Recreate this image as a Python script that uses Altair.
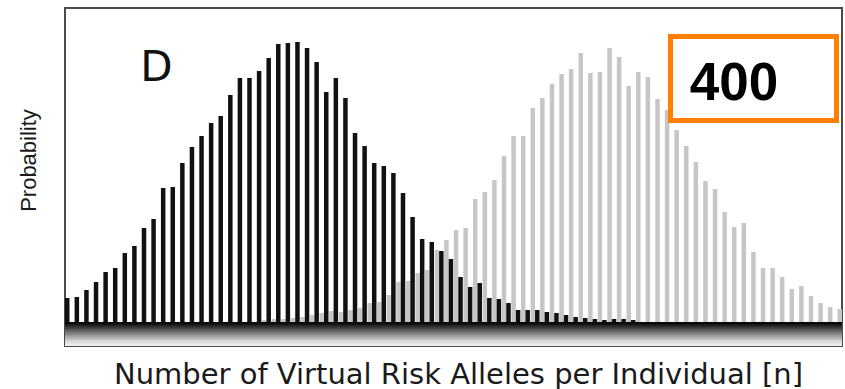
import altair as alt
import pandas as pd

# ---------------- data ----------------
n_values = list(range(0, 81))          # number of virtual risk alleles
N_SIM = 5000                           # simulated individuals per distribution

black_counts = [24, 25, 32, 40, 50, 54, 69, 76, 94, 103,
                134, 135, 159, 175, 186, 199, 206, 227, 244, 244,
                251, 264, 278, 279, 280, 274, 260, 230, 244, 224,
                189, 176, 159, 156, 149, 129, 105, 83, 80, 71,
                63, 45, 35, 39, 24, 23, 19, 12, 12, 12,
                10, 9, 7, 5, 4, 3, 2, 3, 3, 2,
                0, 0, 0, 0, 0, 0, 0, 0, 0, 0,
                0, 0, 0, 0, 0, 0, 0, 0, 0, 0, 0]

gray_counts = [0, 0, 0, 0, 0, 0, 0, 0, 0, 0,
               0, 0, 0, 0, 0, 0, 0, 0, 0, 0,
               2, 3, 3, 4, 5, 7, 9, 11, 10, 12,
               14, 19, 20, 27, 40, 41, 49, 52, 72, 82,
               92, 94, 123, 130, 142, 166, 186, 186, 214, 224,
               238, 248, 253, 269, 249, 250, 274, 265, 236, 250,
               245, 223, 212, 192, 176, 160, 141, 133, 110, 95,
               99, 70, 54, 54, 45, 33, 36, 26, 19, 15, 13]

series_names = ["black", "gray"]
series_colors = ["#111111", "#c6c6c6"]

panel_label = ["D"]
box_label = ["400"]

# ---------------- tables ----------------
rows = []
for i, n in enumerate(n_values):
    rows.append({"n": n, "series": "black", "p": black_counts[i] / N_SIM})
    rows.append({"n": n, "series": "gray", "p": gray_counts[i] / N_SIM})
df = pd.DataFrame(rows)

W, H = 777, 338
y_min = -24 / N_SIM
y_max = 314 / N_SIM
y_scale = alt.Scale(domain=[y_min, y_max], nice=False, zero=False)

y_axis = alt.Axis(title="Probability", titleFont="Liberation Sans",
                  titleFontSize=22, titleFontWeight="normal", titleColor="#1a1a1a",
                  titleX=-30, titleY=152, titleAlign="center",
                  titleBaseline="alphabetic",
                  labels=False, ticks=False, domain=False, grid=False)

x_axis = alt.Axis(title="Number of Virtual Risk Alleles per Individual [n]",
                  titleFont="DejaVu Sans", titleFontSize=29,
                  titleFontWeight="normal", titleColor="#1a1a1a",
                  titleX=393, titleY=37, titleAlign="center",
                  titleBaseline="alphabetic",
                  labels=False, ticks=False, domain=False, grid=False)

# gradient band under the baseline
band_df = pd.DataFrame({"p": [y_min], "p2": [0.0]})
band = alt.Chart(band_df).mark_rect(
    color=alt.Gradient(
        gradient="linear",
        stops=[alt.GradientStop(color="#000000", offset=0),
               alt.GradientStop(color="#1a1a1a", offset=0.12),
               alt.GradientStop(color="#7a7a7a", offset=0.45),
               alt.GradientStop(color="#d8d8d8", offset=0.8),
               alt.GradientStop(color="#f2f2f2", offset=1)],
        x1=0, x2=0, y1=0, y2=1)
).encode(
    x=alt.value(0), x2=alt.value(W),
    y=alt.Y("p:Q", scale=y_scale, axis=y_axis),
    y2="p2:Q",
)

bars = alt.Chart(df).mark_bar().encode(
    x=alt.X("n:O", scale=alt.Scale(paddingInner=0, paddingOuter=0), axis=x_axis),
    xOffset=alt.XOffset("series:N",
                        scale=alt.Scale(domain=series_names, paddingInner=0.12,
                                        paddingOuter=0)),
    y=alt.Y("p:Q", scale=y_scale, axis=y_axis),
    color=alt.Color("series:N",
                    scale=alt.Scale(domain=series_names, range=series_colors),
                    legend=None),
)

d_text = alt.Chart(pd.DataFrame({"label": panel_label})).mark_text(
    font="DejaVu Sans", fontSize=42, color="#111111",
    align="center", baseline="alphabetic"
).encode(x=alt.value(91.5), y=alt.value(73), text="label:N")

box = alt.Chart(pd.DataFrame({"label": box_label})).mark_rect(
    fill="white", stroke="#ff7f00", strokeWidth=5
).encode(x=alt.value(605.5), x2=alt.value(771.5),
         y=alt.value(28.5), y2=alt.value(112.5))

box_text = alt.Chart(pd.DataFrame({"label": box_label})).mark_text(
    font="Liberation Sans", fontSize=53, fontWeight="bold", color="#000000",
    align="center", baseline="alphabetic"
).encode(x=alt.value(669), y=alt.value(92), text="label:N")

chart = alt.layer(band, bars, d_text, box, box_text).properties(
    width=W, height=H,
    padding={"left": 65, "top": 8, "right": 3, "bottom": 43},
    autosize=alt.AutoSizeParams(type="none"),
    background="white",
).configure_view(
    stroke="#4a4a4a", strokeWidth=2
)

chart.save("out.html", embed_options={"renderer": "svg", "actions": False})
